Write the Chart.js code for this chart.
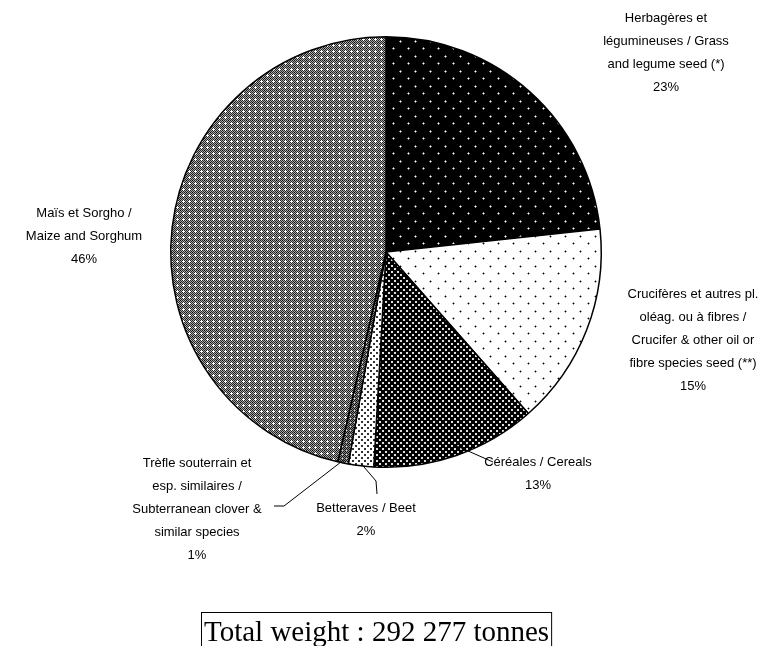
<!DOCTYPE html>
<html>
<head>
<meta charset="utf-8">
<script src="https://cdn.jsdelivr.net/npm/chart.js@4"></script>
<style>
html,body{margin:0;padding:0;background:#fff;overflow:hidden;}
#wrap{position:relative;width:774px;height:646px;}
</style>
</head>
<body>
<div id="wrap"><canvas id="c" width="774" height="646"></canvas></div>
<script>
// ---- data ----
const categories = [
  "Herbagères et légumineuses / Grass and legume seed (*)",
  "Crucifères et autres pl. oléag. ou à fibres / Crucifer & other oil or fibre species seed (**)",
  "Céréales / Cereals",
  "Betteraves / Beet",
  "Trèfle souterrain et esp. similaires / Subterranean clover & similar species",
  "Maïs et Sorgho / Maize and Sorghum"
];
const shares = [23.3, 15.2, 12.4, 1.9, 0.8, 46.4];
const shareLabels = ["23%", "15%", "13%", "2%", "1%", "46%"];
const labelLines = [
  ["Herbagères et", "légumineuses / Grass", "and legume seed (*)", "23%"],
  ["Crucifères et autres pl.", "oléag. ou à fibres /", "Crucifer & other oil or", "fibre species seed (**)", "15%"],
  ["Céréales / Cereals", "13%"],
  ["Betteraves / Beet", "2%"],
  ["Trèfle souterrain et", "esp. similaires /", "Subterranean clover &", "similar species", "1%"],
  ["Maïs et Sorgho /", "Maize and Sorghum", "46%"]
];
const totalText = "Total weight : 292 277 tonnes";

// ---- patterns ----
function makePattern(size, draw) {
  const cv = document.createElement('canvas');
  cv.width = size; cv.height = size;
  const g = cv.getContext('2d');
  draw(g, size);
  return g.createPattern(cv, 'repeat');
}
function dot(g, x, y, core, halo) {
  g.fillStyle = halo;
  g.fillRect(x - 1, y, 3, 1); g.fillRect(x, y - 1, 1, 3);
  g.fillStyle = core;
  g.fillRect(x, y, 1, 1);
}
const patHerb = makePattern(15, (g, s) => {
  g.fillStyle = '#000'; g.fillRect(0, 0, s, s);
  dot(g, 3, 3, '#fff', '#888'); dot(g, 10, 11, '#fff', '#888');
});
const patCruc = makePattern(15, (g, s) => {
  g.fillStyle = '#fff'; g.fillRect(0, 0, s, s);
  dot(g, 3, 3, '#000', '#999'); dot(g, 10, 11, '#000', '#999');
});
const patCer = makePattern(6, (g, s) => {
  g.fillStyle = '#000'; g.fillRect(0, 0, s, s);
  g.fillStyle = '#ddd'; g.fillRect(1, 1, 2, 2); g.fillRect(4, 4, 2, 2);
});
const patBet = makePattern(6, (g, s) => {
  g.fillStyle = '#fff'; g.fillRect(0, 0, s, s);
  g.fillStyle = '#333'; g.fillRect(1, 1, 2, 2); g.fillRect(4, 4, 2, 2);
});
const patTref = makePattern(4, (g, s) => {
  for (let x = 0; x < s; x++) for (let y = 0; y < s; y++) {
    g.fillStyle = ((x + y) % 2 === 0) ? '#111' : '#888';
    g.fillRect(x, y, 1, 1);
  }
  g.fillStyle = '#ddd'; g.fillRect(2, 2, 1, 1);
});
const patMais = makePattern(6, (g, s) => {
  for (let x = 0; x < s; x++) for (let y = 0; y < s; y++) {
    g.fillStyle = ((x + y) % 2 === 0) ? '#222' : '#aaa';
    g.fillRect(x, y, 1, 1);
  }
  g.fillStyle = '#fff';
  g.fillRect(3, 3, 1, 1); g.fillRect(2, 3, 1, 1); g.fillRect(4, 3, 1, 1);
  g.fillRect(3, 2, 1, 1); g.fillRect(3, 4, 1, 1);
  g.fillStyle = '#000'; g.fillRect(0, 0, 1, 1);
});
const fills = [patHerb, patCruc, patCer, patBet, patTref, patMais];

// ---- label layout (text anchor, centred) ----
const LINE_H = 23;
const labelPos = [
  {x: 666, y: 18},
  {x: 693, y: 294},
  {x: 538, y: 462},
  {x: 366, y: 508},
  {x: 197, y: 463},
  {x: 84, y: 213}
];

const labelPlugin = {
  id: 'labels',
  afterDraw(chart) {
    const ctx = chart.ctx;
    const meta = chart.getDatasetMeta(0);
    ctx.save();
    ctx.fillStyle = '#000';
    ctx.font = '13px "Liberation Sans", Arial, sans-serif';
    ctx.textAlign = 'center';
    ctx.textBaseline = 'middle';
    labelLines.forEach((lines, i) => {
      const p = labelPos[i];
      lines.forEach((t, k) => ctx.fillText(t, p.x, p.y + k * LINE_H));
    });
    // leader lines
    ctx.strokeStyle = '#000';
    ctx.lineWidth = 1;
    const edge = (i, r) => {
      const a = meta.data[i];
      const mid = (a.startAngle + a.endAngle) / 2;
      return {x: a.x + Math.cos(mid) * (a.outerRadius + r), y: a.y + Math.sin(mid) * (a.outerRadius + r)};
    };
    let e = edge(2, -12);
    ctx.beginPath(); ctx.moveTo(e.x, e.y); ctx.lineTo(labelPos[2].x - 45, labelPos[2].y); ctx.stroke();
    e = edge(3, -2);
    ctx.beginPath(); ctx.moveTo(e.x, e.y); ctx.lineTo(376, 481); ctx.lineTo(377, 494); ctx.stroke();
    e = edge(4, -3);
    ctx.beginPath(); ctx.moveTo(e.x, e.y); ctx.lineTo(284, 506); ctx.lineTo(274, 506); ctx.stroke();
    // total box
    ctx.font = '29px "Liberation Serif", "Times New Roman", serif';
    ctx.textAlign = 'left';
    ctx.textBaseline = 'alphabetic';
    const w = ctx.measureText(totalText).width;
    ctx.fillText(totalText, 204, 641);
    ctx.lineWidth = 1;
    ctx.strokeRect(201.5, 612.5, w + 5, 40);
    ctx.restore();
  }
};

new Chart(document.getElementById('c'), {
  type: 'pie',
  data: {
    labels: categories,
    datasets: [{
      data: shares,
      backgroundColor: fills,
      borderColor: '#000',
      borderWidth: 1.5,
      hoverOffset: 0
    }]
  },
  options: {
    responsive: false,
    animation: false,
    events: [],
    layout: {padding: {left: 170, right: 172, top: 36, bottom: 178}},
    plugins: {legend: {display: false}, tooltip: {enabled: false}}
  },
  plugins: [labelPlugin]
});
</script>
</body>
</html>
